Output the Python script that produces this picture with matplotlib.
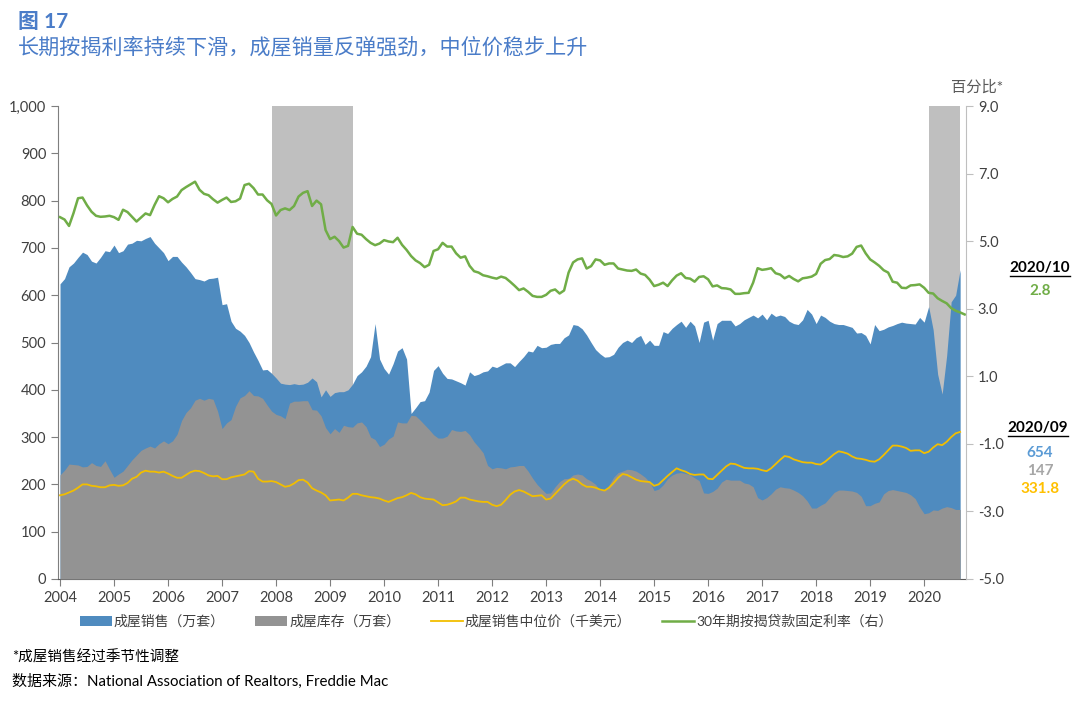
import numpy as np
import matplotlib.pyplot as plt
from matplotlib.lines import Line2D
from matplotlib.ticker import FuncFormatter

plt.rcParams['font.family'] = ['Lato', 'Noto Sans CJK SC', 'DejaVu Sans']

# monthly data, Jan 2004 onwards
start_year = 2004
years = list(range(2004, 2021))

# existing home sales, SAAR (10k units), Jan 2004 - Sep 2020
sales = [
    624, 635, 660, 668, 680, 691, 686, 672, 668, 680, 694, 692,
    706, 690, 694, 708, 710, 716, 715, 720, 724, 710, 700, 690,
    673, 682, 682, 670, 660, 648, 635, 633, 630, 635, 636, 638,
    580, 582, 545, 530, 524, 515, 500, 480, 462, 442, 443, 435,
    425, 414, 412, 411, 413, 411, 412, 416, 425, 417, 385, 400,
    386, 394, 396, 396, 400, 412, 430, 438, 450, 470, 540, 465,
    445, 433, 455, 482, 489, 465, 350, 362, 375, 377, 395, 441,
    451, 435, 424, 423, 419, 415, 410, 438, 430, 433, 438, 440,
    450, 447, 452, 457, 457, 449, 460, 470, 482, 480, 494, 489,
    490, 496, 498, 498, 510, 516, 538, 536, 529, 516, 500, 485,
    476, 469, 470, 475, 490, 500, 505, 500, 510, 515, 496, 505,
    494, 494, 523, 519, 530, 538, 545, 532, 545, 535, 500, 543,
    547, 505, 540, 547, 547, 547, 535, 540, 548, 553, 558, 552,
    560, 548, 562, 555, 558, 555, 545, 540, 538, 548, 570, 560,
    540, 558, 553, 545, 540, 538, 538, 535, 532, 520, 521, 515,
    497, 538, 525, 528, 533, 536, 540, 543, 541, 540, 539, 553,
    543, 576, 527, 433, 391, 472, 586, 600, 654,
]

# inventory (10k units)
inventory = [
    220, 230, 243, 242, 241, 237, 238, 246, 240, 238, 250, 232,
    215, 222, 228, 240, 252, 262, 272, 277, 281, 277, 286, 292,
    286, 292, 306, 335, 352, 362, 378, 382, 378, 382, 380, 355,
    318, 330, 337, 365, 383, 388, 398, 388, 387, 382, 368, 355,
    348, 345, 339, 372, 376, 376, 377, 377, 358, 357, 345, 320,
    307, 318, 310, 325, 322, 321, 330, 332, 322, 300, 295, 280,
    285, 296, 302, 332, 330, 330, 346, 345, 336, 326, 316, 305,
    298, 298, 302, 316, 313, 312, 314, 305, 290, 279, 267, 240,
    233, 236, 235, 233, 237, 238, 240, 240, 228, 213, 200, 190,
    181, 182, 195, 206, 212, 213, 220, 222, 220, 212, 207, 200,
    187, 188, 199, 215, 225, 228, 232, 231, 228, 222, 215, 205,
    187, 190, 199, 212, 220, 224, 225, 223, 220, 214, 208, 182,
    181, 185, 192, 205, 211, 209, 209, 209, 203, 201, 195, 172,
    167, 172, 180, 190, 195, 193, 192, 188, 183, 176, 165, 150,
    150, 156, 161, 172, 183, 188, 188, 187, 186, 183, 175, 155,
    155, 160, 163, 180, 187, 189, 187, 185, 183, 178, 170, 152,
    138, 140, 146, 145, 150, 153, 151, 147, 147,
]

# median sales price (thousand USD)
price = [
    177, 179, 183, 187, 193, 200, 200, 197, 196, 194, 194, 198,
    199, 197, 198, 203, 212, 216, 225, 229, 227, 227, 225, 227,
    223, 218, 214, 214, 220, 226, 229, 228, 224, 219, 217, 218,
    211, 211, 215, 217, 219, 221, 228, 227, 212, 206, 206, 207,
    205, 200, 195, 197, 202, 209, 210, 204, 192, 187, 183, 177,
    166, 167, 168, 166, 172, 180, 180, 177, 175, 173, 172, 170,
    166, 163, 167, 171, 173, 177, 182, 179, 173, 170, 169, 168,
    162, 156, 157, 160, 164, 172, 172, 168, 166, 164, 163, 163,
    157, 154, 157, 167, 178, 185, 188, 185, 180, 175, 176, 177,
    168, 170, 180, 190, 200, 208, 212, 208, 200, 195, 195, 193,
    189, 187, 193, 203, 214, 222, 220, 215, 210, 207, 206, 205,
    197, 200, 209, 218, 226, 234, 230, 227, 222, 220, 221, 221,
    212, 211, 220, 229, 238, 244, 243, 239, 235, 234, 234, 233,
    230, 228, 234, 243, 252, 260, 258, 253, 250, 247, 246, 246,
    243, 242, 248, 256, 264, 270, 268, 265, 259, 255, 254, 252,
    249, 248, 253, 262, 272, 282, 282, 280, 277, 271, 272, 272,
    266, 269, 278, 285, 283, 290, 300, 308, 311,
]

# 30-year fixed mortgage rate (%), Jan 2004 - Oct 2020
rate = [
    5.71, 5.64, 5.45, 5.83, 6.27, 6.29, 6.06, 5.87, 5.75, 5.72, 5.73, 5.75,
    5.71, 5.63, 5.93, 5.86, 5.72, 5.58, 5.70, 5.82, 5.77, 6.07, 6.33, 6.27,
    6.15, 6.25, 6.32, 6.51, 6.60, 6.68, 6.76, 6.52, 6.40, 6.36, 6.24, 6.14,
    6.22, 6.29, 6.16, 6.18, 6.26, 6.66, 6.70, 6.57, 6.38, 6.38, 6.21, 6.10,
    5.76, 5.92, 5.97, 5.92, 6.04, 6.32, 6.43, 6.48, 6.04, 6.20, 6.09, 5.33,
    5.06, 5.13, 5.00, 4.81, 4.86, 5.42, 5.22, 5.19, 5.06, 4.95, 4.88, 4.93,
    5.03, 4.99, 4.97, 5.10, 4.89, 4.74, 4.56, 4.43, 4.35, 4.23, 4.30, 4.71,
    4.76, 4.95, 4.84, 4.84, 4.64, 4.51, 4.55, 4.27, 4.11, 4.07, 3.99, 3.96,
    3.92, 3.89, 3.95, 3.91, 3.80, 3.68, 3.55, 3.60, 3.50, 3.38, 3.35, 3.35,
    3.41, 3.53, 3.57, 3.45, 3.54, 4.07, 4.37, 4.46, 4.49, 4.19, 4.26, 4.46,
    4.43, 4.30, 4.34, 4.34, 4.19, 4.16, 4.13, 4.12, 4.16, 4.04, 4.00, 3.86,
    3.67, 3.71, 3.77, 3.67, 3.84, 3.98, 4.05, 3.91, 3.89, 3.80, 3.94, 3.96,
    3.87, 3.66, 3.69, 3.61, 3.60, 3.57, 3.44, 3.44, 3.46, 3.47, 3.77, 4.20,
    4.15, 4.17, 4.20, 4.05, 4.01, 3.90, 3.97, 3.88, 3.81, 3.90, 3.92, 3.95,
    4.03, 4.33, 4.44, 4.47, 4.59, 4.57, 4.53, 4.55, 4.63, 4.83, 4.87, 4.64,
    4.46, 4.37, 4.27, 4.14, 4.07, 3.80, 3.77, 3.62, 3.61, 3.69, 3.70, 3.72,
    3.62, 3.47, 3.45, 3.31, 3.23, 3.16, 3.02, 2.94, 2.89, 2.83,
]

# recessions (year, month)
recession_start = [(2007, 12), (2020, 2)]
recession_end = [(2009, 6), (2020, 9)]

BLUE = '#4F8BBF'
GRAY = '#939393'
SHADE = '#BFBFBF'
YELLOW = '#F2BE00'
GREEN = '#70AD47'
TXT = '#404040'
TITLE = '#4A7CC8'


def month_idx(y, m):
    return (y - start_year) * 12 + (m - 1)


x_m = np.arange(len(sales))
x_r = np.arange(len(rate))

fig = plt.figure(figsize=(10.8, 7.05), dpi=100)
ax = fig.add_axes([58 / 1080, 1 - 579 / 705, (966 - 58) / 1080, (579 - 106) / 705])

for (sy, sm), (ey, em) in zip(recession_start, recession_end):
    ax.axvspan(month_idx(sy, sm), month_idx(ey, em), color=SHADE, lw=0, zorder=1)

ax.fill_between(x_m, sales, color=BLUE, lw=0, zorder=2, label='成屋销售（万套）')
ax.fill_between(x_m, inventory, color=GRAY, lw=0, zorder=3, label='成屋库存（万套）')
ax.plot(x_m, price, color=YELLOW, lw=1.3, zorder=4, label='成屋销售中位价（千美元）')

ax.set_xlim(-0.45, 201.3)
ax.set_ylim(0, 1000)
ax.set_yticks(range(0, 1001, 100))
ax.yaxis.set_major_formatter(FuncFormatter(lambda v, p: f'{v:,.0f}'))
ax.set_xticks([month_idx(y, 1) for y in years])
ax.set_xticklabels([str(y) for y in years])
ax.tick_params(axis='both', colors='#7F7F7F', labelcolor=TXT, labelsize=10.5,
               direction='out', length=5, width=0.8)
for s in ['top', 'right']:
    ax.spines[s].set_visible(False)
ax.spines['left'].set_color('#7F7F7F')
ax.spines['bottom'].set_color('#595959')

ax2 = ax.twinx()
ax2.plot(x_r, rate, color=GREEN, lw=1.8, label='30年期按揭贷款固定利率（右）')
ax2.set_ylim(-5, 9)
ax2.set_yticks(np.arange(-5, 9.1, 2))
ax2.yaxis.set_major_formatter(FuncFormatter(lambda v, p: f'{v:.1f}'))
ax2.tick_params(axis='y', colors='#BFBFBF', labelcolor=TXT, labelsize=10.5,
                direction='out', length=5, width=0.8)
for s in ['top', 'left', 'bottom']:
    ax2.spines[s].set_visible(False)
ax2.spines['right'].set_color('#BFBFBF')

# legend
h1, l1 = ax.get_legend_handles_labels()
h2, l2 = ax2.get_legend_handles_labels()
fig.legend(h1 + h2, l1 + l2, loc='center', bbox_to_anchor=(0.45, 1 - 621 / 705),
           ncol=4, frameon=False, fontsize=10, handlelength=2.3, handleheight=0.8,
           handletextpad=0.15, columnspacing=2.2, labelcolor=TXT)

# titles
fig.text(18 / 1080, 1 - 22 / 705, '图 17', color=TITLE, fontsize=15,
         fontweight='bold', va='center', ha='left')
fig.text(18 / 1080, 1 - 47 / 705, '长期按揭利率持续下滑，成屋销量反弹强劲，中位价稳步上升',
         color=TITLE, fontsize=15.2, fontweight='medium', va='center', ha='left')
fig.text(977 / 1080, 1 - 88 / 705, '百分比*', color='#595959', fontsize=11,
         va='center', ha='center')

# footnotes
fig.text(12 / 1080, 1 - 657 / 705, '*成屋销售经过季节性调整', fontsize=10.5,
         color='black', va='center', ha='left')
fig.text(12 / 1080, 1 - 681 / 705, '数据来源：National Association of Realtors, Freddie Mac',
         fontsize=10.8, color='black', va='center', ha='left')

# latest values on the right
xc = 1040 / 1080
hdr1 = fig.text(xc, 1 - 268 / 705, '2020/10', fontsize=11, fontweight='bold',
                color='black', ha='center', va='center')
fig.text(xc, 1 - 291 / 705, f'{rate[-1]:.1f}', fontsize=11, fontweight='bold',
         color=GREEN, ha='center', va='center')
hdr2 = fig.text(xc - 2 / 1080, 1 - 428 / 705, '2020/09', fontsize=11, fontweight='bold',
                color='black', ha='center', va='center')
fig.text(xc, 1 - 453 / 705, f'{sales[-1]}', fontsize=11, fontweight='bold',
         color='#5B9BD5', ha='center', va='center')
fig.text(xc, 1 - 471 / 705, f'{inventory[-1]}', fontsize=11, fontweight='bold',
         color='#A6A6A6', ha='center', va='center')
fig.text(xc, 1 - 489 / 705, '331.8', fontsize=11, fontweight='bold',
         color='#FFC000', ha='center', va='center')

# underline the date headers
fig.canvas.draw()
renderer = fig.canvas.get_renderer()
inv = fig.transFigure.inverted()
for t in [hdr1, hdr2]:
    bb = t.get_window_extent(renderer)
    (x0, y0), (x1, _) = inv.transform([(bb.x0, bb.y0 - 1), (bb.x1, bb.y0)])
    fig.add_artist(Line2D([x0, x1], [y0, y0], transform=fig.transFigure,
                          color='black', lw=1.0))

fig.savefig('out.png', dpi=100)
